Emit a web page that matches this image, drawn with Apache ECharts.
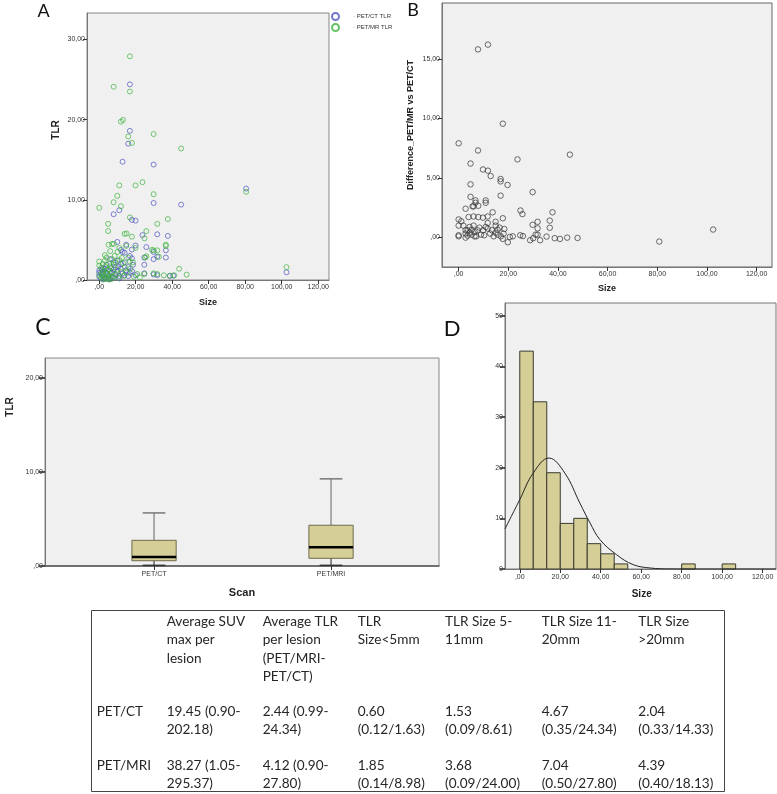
<!DOCTYPE html>
<html>
<head>
<meta charset="utf-8">
<script src="https://cdn.jsdelivr.net/npm/echarts@6/dist/echarts.min.js"></script>
<style>
html,body{margin:0;padding:0;background:#fff;}
#chart{width:777px;height:794px;}
</style>
</head>
<body>
<div id="chart"></div>
<script>
// ---------- DATA ----------
const sizeTicks = [0, 20, 40, 60, 80, 100, 120];
const tlrTicksA = [0, 10, 20, 30];
const diffTicks = [0, 5, 10, 15];
const tlrTicksC = [0, 10, 20];
const countTicks = [0, 10, 20, 30, 40, 50];

// Panel A: [size, TLR]
const petCtTLR = [[16.8,24.4],[16.8,18.6],[15.9,17.0],[12.8,14.75],[29.8,14.4],[80.5,11.4],[29.8,9.6],[44.9,9.4],[11.0,8.7],[7.9,8.2],[17.9,7.5],[19.9,7.4],[23.7,5.6],[31.8,5.7],[37.6,5.5],[9.9,4.75],[14.8,4.4],[19.9,4.3],[25.8,4.1],[11.9,3.75],[12.8,3.5],[17.9,3.8],[29.8,3.5],[36.5,3.7],[13.9,3.4],[16.8,3.0],[17.9,2.7],[24.7,2.8],[29.8,2.6],[31.8,2.9],[36.5,2.8],[102.6,0.96],[24.7,0.83],[29.8,0.7],[31.8,0.6],[38.7,0.5],[40.5,0.55],[15.9,1.6],[18.5,1.9],[24.7,1.9],[9.9,2.4],[10.5,1.7],[7.9,2.2],[5.9,2.6],[4.0,1.9],[3.0,1.4],[2.0,1.0],[1.0,0.9],[0,1.2],[0,0.4],[1.0,0.2],[2.0,0.6],[3.0,0.3],[3.9,0.8],[4.9,0.5],[5.9,1.1],[6.9,0.4],[7.9,1.3],[8.9,0.7],[9.9,1.0],[10.9,0.5],[11.9,1.4],[12.8,0.8],[13.8,0.6],[14.8,1.2],[15.9,0.5],[16.8,0.9],[5.0,0.1],[6.0,0.2],[7.0,0.9],[3.0,1.1],[2.0,1.5],[4.0,0.2],[8.0,0.3],[11.0,0.2],[12.0,2.0],[9.0,1.6],[6.5,1.5],[14.0,2.2],[18.0,1.1],[20.0,0.6],[0,0.9],[1.5,1.3],[2.5,0.1]];
const petMrTLR = [[16.8,27.9],[7.9,24.1],[16.8,23.5],[11.9,19.75],[13.0,19.96],[29.8,18.2],[15.9,17.9],[17.9,17.1],[44.9,16.4],[11.0,11.8],[19.9,11.8],[23.7,12.2],[29.8,10.7],[9.9,10.5],[7.9,9.7],[0,9.0],[11.9,9.2],[80.5,11.0],[16.8,7.8],[37.6,7.6],[31.8,7.0],[4.9,7.0],[4.9,6.1],[13.9,5.75],[15.0,5.8],[17.9,5.4],[25.8,6.1],[24.8,5.2],[36.5,4.4],[36.5,4.25],[5.1,4.4],[7.0,4.5],[8.0,4.5],[11.0,4.0],[14.8,4.25],[19.9,4.0],[28.9,3.75],[29.8,3.7],[31.8,3.7],[3.1,3.1],[6.0,3.6],[10.0,3.5],[25.8,2.96],[25.2,2.8],[32.7,2.9],[16.8,2.3],[12.4,2.75],[0,2.3],[43.8,1.4],[102.6,1.6],[20.8,0.75],[22.3,0.33],[24.7,0.75],[29.8,0.83],[31.8,0.75],[35.4,0.58],[38.7,0.54],[41.1,0.58],[47.9,0.67],[0,1.8],[0,0.6],[1.0,1.5],[1.0,0.3],[2.0,2.0],[2.0,0.9],[2.5,1.2],[3.0,0.5],[3.0,2.4],[3.5,1.6],[4.0,0.9],[4.0,2.8],[4.5,0.2],[5.0,1.3],[5.0,0.5],[5.5,2.0],[6.0,0.8],[6.0,1.7],[6.5,0.1],[7.0,2.6],[7.0,1.0],[7.5,0.4],[8.0,1.9],[8.5,3.0],[9.0,0.6],[9.0,2.2],[10.0,1.3],[10.5,0.3],[11.0,2.5],[12.0,1.0],[13.0,2.1],[13.5,0.5],[14.0,1.6],[15.0,0.9],[16.0,2.8],[17.0,1.4],[18.5,2.2],[19.0,0.4],[5.5,0.05],[3.5,0.15],[2.0,0.05],[1.5,0.7]];

// Panel B: [size, difference PET/MR - PET/CT]
const diffPoints = [[7.8,15.8],[11.8,16.2],[17.8,9.55],[0,7.9],[7.8,7.3],[44.8,6.95],[23.7,6.55],[4.8,6.2],[9.8,5.7],[11.8,5.6],[12.9,5.15],[16.9,4.9],[16.9,4.7],[19.7,4.4],[4.8,4.45],[29.8,3.8],[4.8,3.4],[16.9,3.5],[6.8,3.1],[6.8,2.9],[10.9,3.1],[10.9,2.9],[2.8,2.4],[5.6,2.6],[6.0,2.6],[7.9,2.65],[24.9,2.25],[13.7,2.1],[37.8,2.1],[25.7,1.95],[0,1.5],[4.0,1.7],[6.0,1.75],[7.9,1.7],[9.8,1.65],[11.7,1.75],[17.8,1.6],[14.9,1.3],[31.8,1.3],[36.7,1.4],[29.8,1.05],[0,0.98],[18.4,0.7],[31.8,0.75],[36.7,0.8],[102.5,0.65],[80.8,-0.36],[43.7,-0.03],[47.9,-0.06],[40.8,-0.14],[38.7,-0.08],[35.4,0.06],[32.8,-0.25],[28.8,-0.25],[30,-0.08],[31,0.22],[31.8,0.22],[25.9,0.1],[24.8,0.17],[19.8,-0.42],[17.8,-0.14],[20.6,0.03],[21.8,0.08],[17,0.08],[0,0.17],[0,0.08],[1.07,1.34],[1.9,0.98],[2.8,0.59],[2.8,0.31],[2.8,-0.03],[3.6,0.59],[3.6,0.14],[4.4,0.87],[4.4,0.39],[5.2,0.22],[5.2,0.64],[6.0,0.98],[6.4,0.45],[6.4,0.08],[7.1,0.08],[7.6,0.59],[8.4,0.81],[9.0,0.22],[9.8,0.59],[10.3,0.17],[10.9,0.87],[11.7,1.2],[11.7,0.73],[12.7,0.31],[13.4,0.59],[14.1,0.08],[14.9,0.98],[14.9,0.39],[15.7,0.64],[15.7,0.22],[16.5,0.81],[18.1,0.31]];

// Panel C: box plot statistics
const scanCats = ['PET/CT', 'PET/MRI'];
const boxLow  = [0.07, 0.07];
const boxQ1   = [0.56, 0.82];
const boxMed  = [0.96, 1.99];
const boxQ3   = [2.73, 4.33];
const boxHigh = [5.64, 9.26];

// Panel D: histogram of size
const binWidth = 6.67;
const histStart  = [0, 6.67, 13.33, 20, 26.67, 33.33, 40, 46.67, 80, 100];
const histCounts = [43, 33, 19, 9, 10, 5, 3, 1, 1, 1];
const normalCurve = [[-7.3,7.9],[0,13.7],[6.6,18.9],[14.4,21.9],[22.3,18.9],[29.7,13.0],[34.7,9.1],[39.6,5.8],[47.9,2.8],[56.1,0.85],[64.4,0.2],[74.3,0.02],[90,0],[126.6,0]];

// Table
const tableHeader = ['', 'Average SUV\nmax per\nlesion', 'Average TLR\nper lesion\n(PET/MRI-\nPET/CT)', 'TLR\nSize<5mm', 'TLR Size 5-\n11mm', 'TLR Size 11-\n20mm', 'TLR Size\n>20mm'];
const tableRowCT  = ['PET/CT', '19.45 (0.90-\n202.18)', '2.44 (0.99-\n24.34)', '0.60\n(0.12/1.63)', '1.53\n(0.09/8.61)', '4.67\n(0.35/24.34)', '2.04\n(0.33/14.33)'];
const tableRowMRI = ['PET/MRI', '38.27 (1.05-\n295.37)', '4.12 (0.90-\n27.80)', '1.85\n(0.14/8.98)', '3.68\n(0.09/24.00)', '7.04\n(0.50/27.80)', '4.39\n(0.40/18.13)'];

// ---------- CHART ----------
const chart = echarts.init(document.getElementById('chart'), null, {renderer: 'canvas'});
const tickFont = {fontFamily: 'Liberation Sans, Arial, sans-serif', fontSize: 7, color: '#333'};
const commaFmt = v => (v === 0 ? ',00' : v + ',00');

function valAxis(gridIndex, min, max, ticks, fmt, tickLen, labelMargin, extra) {
  return Object.assign({
    type: 'value', gridIndex, min, max,
    splitLine: {show: false},
    axisLine: {show: true, onZero: false, lineStyle: {color: '#777', width: 1}},
    axisTick: {show: true, customValues: ticks, length: tickLen, lineStyle: {color: '#333', width: 1}},
    axisLabel: Object.assign({customValues: ticks, formatter: fmt, margin: labelMargin}, tickFont)
  }, extra || {});
}

const colW = [96.7, 166.7, 262.7, 357.7, 445, 541.7, 638.3];
const tableFont = {fontFamily: 'Lato, "Open Sans", sans-serif', fontSize: 13.6, lineHeight: 18.3, fill: '#262626'};
const graphics = [];
function addRow(cells, top) {
  cells.forEach((t, i) => {
    if (!t) return;
    graphics.push({type: 'text', left: colW[i], top: top, silent: true,
      style: Object.assign({text: t}, tableFont)});
  });
}
graphics.push({type: 'rect', shape: {x: 91.5, y: 610.5, width: 633, height: 181}, style: {fill: 'none', stroke: '#444', lineWidth: 1}, silent: true});
addRow(tableHeader, 612.5);
addRow(tableRowCT, 702);
addRow(tableRowMRI, 756.6);

const letterFont = {fontFamily: 'Lato, "Open Sans", sans-serif', fill: '#111'};
const titleFont = {fontFamily: 'Liberation Sans, Arial, sans-serif', fontWeight: 'bold', fill: '#222'};
[['A', 43.5, 11, 18], ['B', 413, 10, 18], ['C', 43, 328, 23], ['D', 452, 329, 22]].forEach(([t, x, y, s]) => {
  graphics.push({type: 'text', x, y, silent: true, style: Object.assign({text: t, fontSize: s, align: 'center', verticalAlign: 'middle'}, letterFont)});
});
// axis titles
[['Size', 208, 303, 0, 9], ['Size', 607, 289, 0, 9], ['Scan', 242, 593, 0, 11], ['Size', 641.7, 594, 0, 10],
 ['TLR', 56, 130, 90, 10], ['Difference_PET/MR vs PET/CT', 411, 125, 90, 9], ['TLR', 10, 407, 90, 10]].forEach(([t, x, y, r, s]) => {
  graphics.push({type: 'text', x, y, rotation: r * Math.PI / 180, silent: true,
    style: Object.assign({text: t, fontSize: s, align: 'center', verticalAlign: 'middle'}, titleFont)});
});

const option = {
  animation: false,
  backgroundColor: '#ffffff',
  grid: [
    {left: 87, top: 13, width: 242, height: 267, show: true, backgroundColor: '#f0f0f0', borderColor: '#888', borderWidth: 1},
    {left: 442, top: 3, width: 330, height: 264, show: true, backgroundColor: '#f0f0f0', borderColor: '#666', borderWidth: 1},
    {left: 45, top: 358, width: 394, height: 208, show: true, backgroundColor: '#f0f0f0', borderColor: '#888', borderWidth: 1},
    {left: 505, top: 303, width: 271, height: 266, show: true, backgroundColor: '#f0f0f0', borderColor: '#777', borderWidth: 1}
  ],
  legend: {
    left: 331, top: 12, orient: 'vertical', padding: 0, itemGap: 2, itemWidth: 7, itemHeight: 7, icon: 'circle',
    textStyle: {fontFamily: 'Liberation Sans, Arial, sans-serif', fontSize: 6, color: '#333', padding: [0, 0, 0, 9]},
    data: ['· PET/CT TLR', '· PET/MR TLR']
  },
  xAxis: [
    valAxis(0, -6.7, 125.9, sizeTicks, commaFmt, 4, 4),
    valAxis(1, -6.7, 126.2, sizeTicks, commaFmt, 4, 4),
    valAxis(2, 0.384, 2.61, [1, 2], v => scanCats[Math.round(v) - 1] || '', 4, 5, {axisLine: {show: true, onZero: false, lineStyle: {color: '#555', width: 1.5}}}),
    valAxis(3, -7.3, 126.6, sizeTicks, commaFmt, 4, 5)
  ],
  yAxis: [
    valAxis(0, 0, 33.3, tlrTicksA, commaFmt, 4, 2),
    valAxis(1, -2.5, 19.7, diffTicks, commaFmt, 4, 2),
    valAxis(2, 0, 22.1, tlrTicksC, commaFmt, 6, 2, {axisTick: {show: true, customValues: tlrTicksC, length: 6, lineStyle: {color: '#222', width: 1.5}}}),
    valAxis(3, 0, 52.5, countTicks, v => String(v), 5, 2, {axisTick: {show: true, customValues: countTicks, length: 5, lineStyle: {color: '#222', width: 1.5}}})
  ],
  graphic: graphics,
  series: [
    {name: '· PET/CT TLR', type: 'scatter', xAxisIndex: 0, yAxisIndex: 0, data: petCtTLR, symbol: 'circle', symbolSize: 5, silent: true,
     itemStyle: {color: 'rgba(0,0,0,0)', borderColor: '#4f55c2', borderWidth: 0.9}},
    {name: '· PET/MR TLR', type: 'scatter', xAxisIndex: 0, yAxisIndex: 0, data: petMrTLR, symbol: 'circle', symbolSize: 5, silent: true,
     itemStyle: {color: 'rgba(0,0,0,0)', borderColor: '#3db43d', borderWidth: 0.9}},
    {name: 'diff', type: 'scatter', xAxisIndex: 1, yAxisIndex: 1, data: diffPoints, symbol: 'circle', symbolSize: 5.5, silent: true,
     itemStyle: {color: 'rgba(0,0,0,0)', borderColor: '#333', borderWidth: 0.9}},
    {name: 'box', type: 'custom', xAxisIndex: 2, yAxisIndex: 2, silent: true,
     data: scanCats.map((c, i) => [i + 1, boxLow[i], boxQ1[i], boxMed[i], boxQ3[i], boxHigh[i]]),
     encode: {x: 0, y: [1, 2, 3, 4, 5]},
     renderItem: function (params, api) {
       const x = api.value(0);
       const pLow = api.coord([x, api.value(1)]);
       const pQ1 = api.coord([x, api.value(2)]);
       const pMed = api.coord([x, api.value(3)]);
       const pQ3 = api.coord([x, api.value(4)]);
       const pHigh = api.coord([x, api.value(5)]);
       const half = api.size([0.125, 0])[0];
       const cap = api.size([0.064, 0])[0];
       const cx = pLow[0];
       const gray = {stroke: '#7a7a7a', lineWidth: 1.2};
       return {type: 'group', children: [
         {type: 'line', shape: {x1: cx, y1: pHigh[1], x2: cx, y2: pQ3[1]}, style: gray},
         {type: 'line', shape: {x1: cx, y1: pQ1[1], x2: cx, y2: pLow[1]}, style: {stroke: '#444', lineWidth: 1.2}},
         {type: 'line', shape: {x1: cx - cap, y1: pHigh[1], x2: cx + cap, y2: pHigh[1]}, style: {stroke: '#777', lineWidth: 1.5}},
         {type: 'line', shape: {x1: cx - cap, y1: pLow[1], x2: cx + cap, y2: pLow[1]}, style: {stroke: '#333', lineWidth: 1.5}},
         {type: 'rect', shape: {x: cx - half, y: pQ3[1], width: 2 * half, height: pQ1[1] - pQ3[1]}, style: {fill: '#d5ce97', stroke: '#6e6a4c', lineWidth: 1}},
         {type: 'line', shape: {x1: cx - half, y1: pMed[1], x2: cx + half, y2: pMed[1]}, style: {stroke: '#000', lineWidth: 2.5}}
       ]};
     }},
    {name: 'hist', type: 'custom', xAxisIndex: 3, yAxisIndex: 3, silent: true,
     data: histStart.map((s, i) => [s, histCounts[i], binWidth]),
     encode: {x: 0, y: 1},
     renderItem: function (params, api) {
       const s = api.value(0), c = api.value(1), w = api.value(2);
       const p0 = api.coord([s, c]);
       const p1 = api.coord([s + w, 0]);
       return {type: 'rect', shape: {x: p0[0], y: p0[1], width: p1[0] - p0[0], height: p1[1] - p0[1]},
         style: {fill: '#d5ce97', stroke: '#3a3a30', lineWidth: 1}};
     }},
    {name: 'normal', type: 'line', xAxisIndex: 3, yAxisIndex: 3, data: normalCurve, smooth: 0.4, symbol: 'none', silent: true, z: 5,
     lineStyle: {color: '#222', width: 1}}
  ]
};
chart.setOption(option);
</script>
</body>
</html>
